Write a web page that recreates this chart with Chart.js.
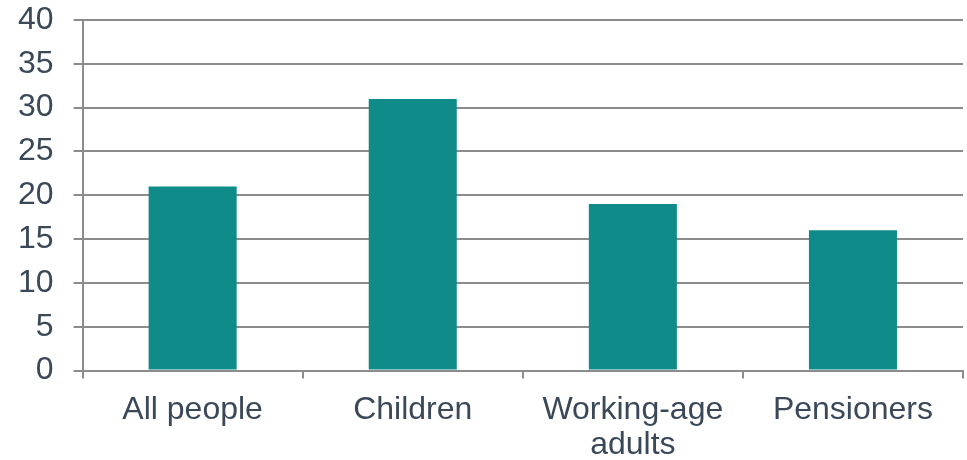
<!DOCTYPE html>
<html>
<head>
<meta charset="utf-8">
<script src="https://cdn.jsdelivr.net/npm/chart.js@4"></script>
<style>
  html, body { margin: 0; padding: 0; background: #fff; overflow: hidden; }
  #wrap { width: 967px; height: 470px; margin-top: -8px; }
</style>
</head>
<body>
<div id="wrap"><canvas id="chart"></canvas></div>
<script>
const categories = ['All people', 'Children', ['Working-age', 'adults'], 'Pensioners'];
const values = [21, 31, 19, 16];
const yTicks = [0, 5, 10, 15, 20, 25, 30, 35, 40];

const gridColor = '#8c8c8c';
const textColor = '#3a4858';

const ctx = document.getElementById('chart').getContext('2d');
new Chart(ctx, {
  type: 'bar',
  data: {
    labels: categories,
    datasets: [{
      data: values,
      backgroundColor: '#0f8b89',
      borderWidth: 0,
      barPercentage: 0.4,
      categoryPercentage: 1.0
    }]
  },
  options: {
    responsive: true,
    maintainAspectRatio: false,
    animation: false,
    layout: { padding: { top: 0, right: 4, left: -2, bottom: -15 } },
    plugins: {
      legend: { display: false },
      tooltip: { enabled: false }
    },
    scales: {
      x: {
        grid: {
          offset: true,
          drawOnChartArea: false,
          drawTicks: true,
          tickLength: 8,
          color: gridColor,
          lineWidth: 2
        },
        border: { display: true, color: gridColor, width: 2 },
        ticks: {
          color: textColor,
          padding: 14,
          maxRotation: 0,
          autoSkip: false,
          font: { family: 'Liberation Sans, Arial, sans-serif', size: 32, lineHeight: 1.1 }
        }
      },
      y: {
        min: 0,
        max: 40,
        afterBuildTicks: axis => { axis.ticks = yTicks.map(v => ({ value: v })); },
        grid: {
          color: gridColor,
          lineWidth: 2,
          drawTicks: true,
          tickLength: 9
        },
        border: { display: true, color: gridColor, width: 2 },
        ticks: {
          color: textColor,
          padding: 20,
          autoSkip: false,
          font: { family: 'Liberation Sans, Arial, sans-serif', size: 32, lineHeight: 0.5 }
        }
      }
    }
  }
});
</script>
</body>
</html>
